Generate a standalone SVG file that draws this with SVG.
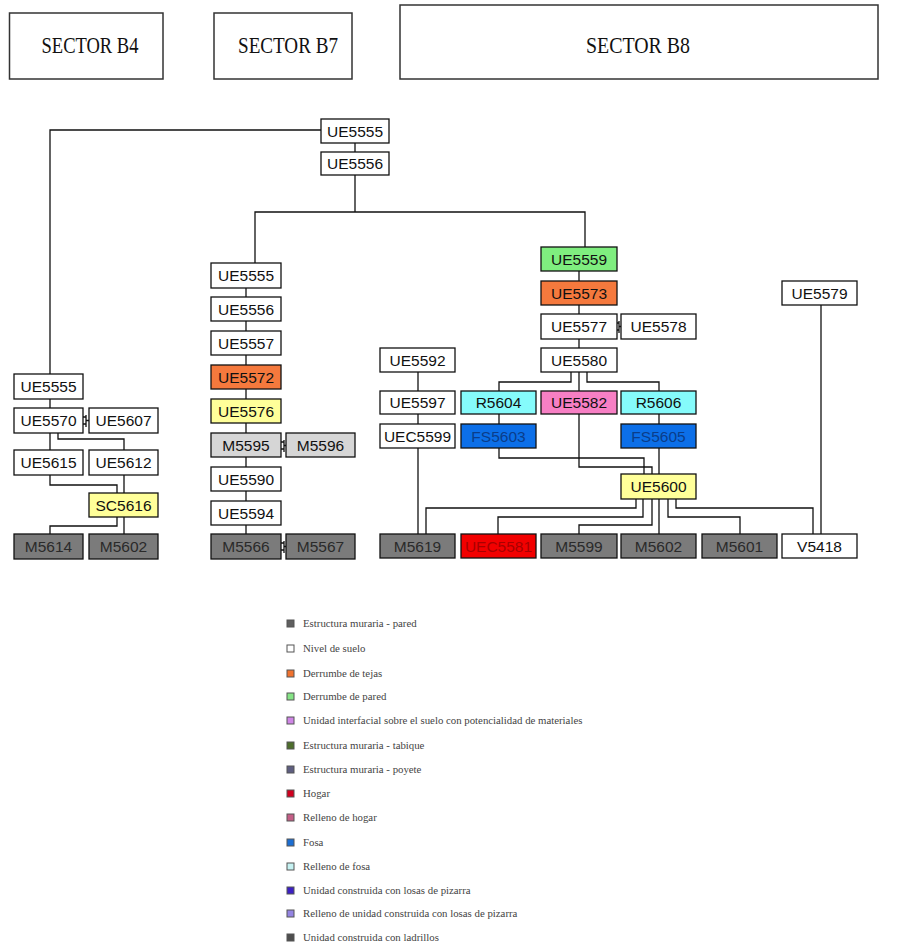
<svg xmlns="http://www.w3.org/2000/svg" width="912" height="947" viewBox="0 0 912 947">
<style>
.hdr{fill:#fff;stroke:#333;stroke-width:1.5}
.ht{font-family:"Liberation Serif",serif;font-size:24px;fill:#111;text-anchor:middle}
.n rect{stroke:#111;stroke-width:1.3}
.n text{font-family:"Liberation Sans",Arial,sans-serif;font-size:15.5px;fill:#111;text-anchor:middle}
.w rect{fill:#fff}
.g rect{fill:#7b7b7b}
.lg rect{fill:#d6d6d6}
.y rect{fill:#ffff99}
.o rect{fill:#f5793d}
.gr rect{fill:#7fee7f}
.p rect{fill:#f77fc4}
.c rect{fill:#85fbfb}
.b rect{fill:#0c6fe8}
.b text{fill:#0a3d8a}
.r rect{fill:#f20000}
.r text{fill:#a80000}
.g text{fill:#2a2a2a}
#connectors path{fill:none;stroke:#111;stroke-width:1.3}
.leg rect{stroke:#555;stroke-width:1}
.leg text{font-family:"Liberation Serif",serif;font-size:10.8px;fill:#444}
</style>
<rect width="912" height="947" fill="#fff"/>
<g id="sector-b4"><rect class="hdr" x="9.5" y="13" width="153.5" height="66"/><text class="ht" x="90" y="53" textLength="97" lengthAdjust="spacingAndGlyphs">SECTOR B4</text></g>
<g id="sector-b7"><rect class="hdr" x="214" y="13" width="138" height="66"/><text class="ht" x="288" y="53" textLength="100" lengthAdjust="spacingAndGlyphs">SECTOR B7</text></g>
<g id="sector-b8"><rect class="hdr" x="400" y="5" width="478" height="74"/><text class="ht" x="638" y="53" textLength="104" lengthAdjust="spacingAndGlyphs">SECTOR B8</text></g>

<g id="connectors">
<path d="M321,130 H50 V374"/>
<path d="M355,143 V152"/>
<path d="M355,175 V212 M255,263 V212 H585 V247"/>
<path d="M50,399 V450 M58,433 V439 H124 V450 M50,475 V485 H117 V493 M124,475 V493 M117,517 V526 H50 V534 M124,517 V534"/>
<path d="M83,417 H86 M83,424 H86 M86,415 V427 M86,420.5 H89"/>
<path d="M246,288 V534"/>
<path d="M281,442 H284 M281,449 H284 M284,440 V452 M284,445.5 H286"/>
<path d="M281,543 H284 M281,550 H284 M284,541 V553 M284,546.5 H286"/>
<path d="M579,271 V391"/>
<path d="M617,323 H619 M617,330 H619 M619,321 V333 M619,326.5 H621"/>
<path d="M571,372 V382 H499 V424 M587,372 V382 H659 V474"/>
<path d="M418,372 V534"/>
<path d="M499,448 V458 H644 V474"/>
<path d="M579,414 V467 H652 V474"/>
<path d="M636,499 V508 H426 V534 M643,499 V517 H498 V534 M652,499 V525 H579 V534 M659,499 V534 M668,499 V517 H740 V534 M676,499 V508 H813 V534"/>
<path d="M821,305 V534"/>
</g>

<g id="top-ue5555" class="n w"><rect x="321" y="119" width="68" height="24"/><text x="355" y="137">UE5555</text></g>
<g id="top-ue5556" class="n w"><rect x="321" y="152" width="68" height="23"/><text x="355" y="169">UE5556</text></g>

<g id="b4-ue5555" class="n w"><rect x="14" y="374" width="69" height="25"/><text x="48.5" y="392">UE5555</text></g>
<g id="b4-ue5570" class="n w"><rect x="14" y="408" width="69" height="25"/><text x="48.5" y="426">UE5570</text></g>
<g id="b4-ue5607" class="n w"><rect x="89" y="408" width="69" height="25"/><text x="123.5" y="426">UE5607</text></g>
<g id="b4-ue5615" class="n w"><rect x="14" y="450" width="69" height="25"/><text x="48.5" y="468">UE5615</text></g>
<g id="b4-ue5612" class="n w"><rect x="89" y="450" width="69" height="25"/><text x="123.5" y="468">UE5612</text></g>
<g id="b4-sc5616" class="n y"><rect x="89" y="493" width="69" height="24"/><text x="123.5" y="511">SC5616</text></g>
<g id="b4-m5614" class="n g"><rect x="14" y="534" width="69" height="25"/><text x="48.5" y="552">M5614</text></g>
<g id="b4-m5602" class="n g"><rect x="89" y="534" width="69" height="25"/><text x="123.5" y="552">M5602</text></g>

<g id="b7-ue5555" class="n w"><rect x="211" y="263" width="70" height="25"/><text x="246" y="281">UE5555</text></g>
<g id="b7-ue5556" class="n w"><rect x="211" y="297" width="70" height="24"/><text x="246" y="315">UE5556</text></g>
<g id="b7-ue5557" class="n w"><rect x="211" y="331" width="70" height="24"/><text x="246" y="349">UE5557</text></g>
<g id="b7-ue5572" class="n o"><rect x="211" y="365" width="70" height="24"/><text x="246" y="383">UE5572</text></g>
<g id="b7-ue5576" class="n y"><rect x="211" y="399" width="70" height="24"/><text x="246" y="417">UE5576</text></g>
<g id="b7-m5595" class="n lg"><rect x="211" y="433" width="70" height="24"/><text x="246" y="451">M5595</text></g>
<g id="b7-m5596" class="n lg"><rect x="286" y="433" width="69" height="24"/><text x="320.5" y="451">M5596</text></g>
<g id="b7-ue5590" class="n w"><rect x="211" y="467" width="70" height="24"/><text x="246" y="485">UE5590</text></g>
<g id="b7-ue5594" class="n w"><rect x="211" y="501" width="70" height="24"/><text x="246" y="519">UE5594</text></g>
<g id="b7-m5566" class="n g"><rect x="211" y="534" width="70" height="25"/><text x="246" y="552">M5566</text></g>
<g id="b7-m5567" class="n g"><rect x="286" y="534" width="69" height="25"/><text x="320.5" y="552">M5567</text></g>

<g id="b8-ue5559" class="n gr"><rect x="541" y="247" width="76" height="24"/><text x="579" y="265">UE5559</text></g>
<g id="b8-ue5573" class="n o"><rect x="541" y="281" width="76" height="24"/><text x="579" y="299">UE5573</text></g>
<g id="b8-ue5577" class="n w"><rect x="541" y="314" width="76" height="25"/><text x="579" y="332">UE5577</text></g>
<g id="b8-ue5578" class="n w"><rect x="621" y="314" width="75" height="25"/><text x="658.5" y="332">UE5578</text></g>
<g id="b8-ue5579" class="n w"><rect x="782" y="281" width="75" height="24"/><text x="819.5" y="299">UE5579</text></g>
<g id="b8-ue5580" class="n w"><rect x="541" y="348" width="76" height="24"/><text x="579" y="366">UE5580</text></g>
<g id="b8-ue5592" class="n w"><rect x="380" y="348" width="75" height="24"/><text x="417.5" y="366">UE5592</text></g>
<g id="b8-ue5597" class="n w"><rect x="380" y="391" width="75" height="23"/><text x="417.5" y="408">UE5597</text></g>
<g id="b8-r5604" class="n c"><rect x="461" y="391" width="75" height="23"/><text x="498.5" y="408">R5604</text></g>
<g id="b8-ue5582" class="n p"><rect x="541" y="391" width="76" height="23"/><text x="579" y="408">UE5582</text></g>
<g id="b8-r5606" class="n c"><rect x="621" y="391" width="75" height="23"/><text x="658.5" y="408">R5606</text></g>
<g id="b8-uec5599" class="n w"><rect x="380" y="424" width="75" height="24"/><text x="417.5" y="442">UEC5599</text></g>
<g id="b8-fs5603" class="n b"><rect x="461" y="424" width="75" height="24"/><text x="498.5" y="442">FS5603</text></g>
<g id="b8-fs5605" class="n b"><rect x="621" y="424" width="75" height="24"/><text x="658.5" y="442">FS5605</text></g>
<g id="b8-ue5600" class="n y"><rect x="621" y="474" width="75" height="25"/><text x="658.5" y="492">UE5600</text></g>
<g id="b8-m5619" class="n g"><rect x="380" y="534" width="75" height="24"/><text x="417.5" y="552">M5619</text></g>
<g id="b8-uec5581" class="n r"><rect x="461" y="534" width="75" height="24"/><text x="498.5" y="552">UEC5581</text></g>
<g id="b8-m5599" class="n g"><rect x="541" y="534" width="76" height="24"/><text x="579" y="552">M5599</text></g>
<g id="b8-m5602" class="n g"><rect x="621" y="534" width="75" height="24"/><text x="658.5" y="552">M5602</text></g>
<g id="b8-m5601" class="n g"><rect x="702" y="534" width="75" height="24"/><text x="739.5" y="552">M5601</text></g>
<g id="b8-v5418" class="n w"><rect x="782" y="534" width="75" height="24"/><text x="819.5" y="552">V5418</text></g>

<g id="legend" class="leg">
<rect x="287" y="620" width="7" height="7" fill="#5f5f5f"/><text x="303" y="627">Estructura muraria - pared</text>
<rect x="287" y="645" width="7" height="7" fill="#fff"/><text x="303" y="652">Nivel de suelo</text>
<rect x="287" y="670" width="7" height="7" fill="#f0722e"/><text x="303" y="677">Derrumbe de tejas</text>
<rect x="287" y="693" width="7" height="7" fill="#86e486"/><text x="303" y="700">Derrumbe de pared</text>
<rect x="287" y="717" width="7" height="7" fill="#cf86e6"/><text x="303" y="724">Unidad interfacial sobre el suelo con potencialidad de materiales</text>
<rect x="287" y="742" width="7" height="7" fill="#4e6e2c"/><text x="303" y="749">Estructura muraria - tabique</text>
<rect x="287" y="766" width="7" height="7" fill="#5e5e80"/><text x="303" y="773">Estructura muraria - poyete</text>
<rect x="287" y="790" width="7" height="7" fill="#d0001e"/><text x="303" y="797">Hogar</text>
<rect x="287" y="814" width="7" height="7" fill="#c45e86"/><text x="303" y="821">Relleno de hogar</text>
<rect x="287" y="839" width="7" height="7" fill="#1c6ed2"/><text x="303" y="846">Fosa</text>
<rect x="287" y="863" width="7" height="7" fill="#c6f2f2"/><text x="303" y="870">Relleno de fosa</text>
<rect x="287" y="887" width="7" height="7" fill="#3d20c4"/><text x="303" y="894">Unidad construida con losas de pizarra</text>
<rect x="287" y="910" width="7" height="7" fill="#9484e2"/><text x="303" y="917">Relleno de unidad construida con losas de pizarra</text>
<rect x="287" y="934" width="7" height="7" fill="#4e4e4e"/><text x="303" y="941">Unidad construida con ladrillos</text>
</g>
</svg>
